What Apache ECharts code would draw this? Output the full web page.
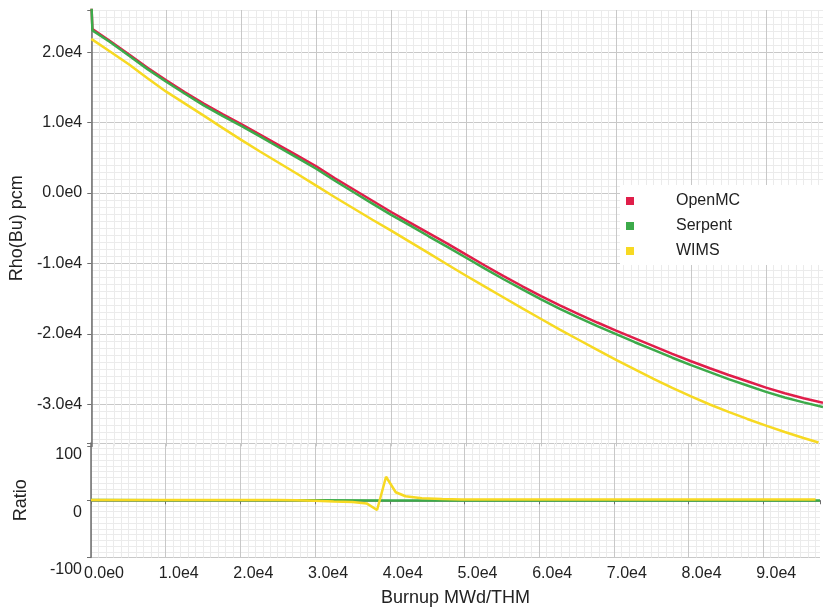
<!DOCTYPE html>
<html>
<head>
<meta charset="utf-8">
<script src="https://cdn.jsdelivr.net/npm/echarts/dist/echarts.min.js"></script>
<style>
  html, body { margin: 0; padding: 0; background: #fff; }
  #chart { width: 823px; height: 610px; }
</style>
</head>
<body>
<div id="chart"></div>
<script>
// burnup steps (MWd/THM) for the OpenMC / Serpent runs
const burnup = [0, 150, 2500, 5000, 7500, 10000, 12500, 15000, 17500, 20000, 22500, 25000,
  27500, 30000, 32500, 35000, 37500, 40000, 42500, 45000, 47500, 50000, 52500, 55000,
  57500, 60000, 62500, 65000, 67500, 70000, 72500, 75000, 77500, 80000, 82500, 85000,
  87500, 90000, 92500, 95000, 97600];
const openmc = [27500, 23300, 21600, 19700, 17800, 16000, 14300, 12700, 11200, 9800, 8300, 6800,
  5300, 3800, 2100, 500, -1100, -2700, -4200, -5700, -7200, -8750, -10300, -11800,
  -13250, -14650, -15950, -17200, -18400, -19550, -20650, -21750, -22850, -23900, -24900, -25850,
  -26750, -27650, -28450, -29150, -29800];
const serpent = [27500, 23100, 21450, 19550, 17600, 15800, 14100, 12450, 10950, 9550, 8050, 6500,
  5000, 3450, 1750, 100, -1500, -3100, -4600, -6150, -7650, -9200, -10750, -12250,
  -13700, -15100, -16450, -17700, -18900, -20050, -21200, -22300, -23400, -24450, -25450, -26450,
  -27350, -28250, -29050, -29750, -30400];

// WIMS steps
const wimsBurnup = [0, 2500, 5000, 7500, 10000, 12500, 15000, 17500, 20000, 22500, 25000, 27500,
  30000, 32500, 35000, 37500, 40000, 42500, 45000, 47500, 50000, 52500, 55000, 57500,
  60000, 62500, 65000, 67500, 70000, 72500, 75000, 77500, 80000, 82500, 85000, 87500,
  90000, 92500, 95000, 97000];
const wims = [21900, 20100, 18300, 16300, 14400, 12700, 11000, 9250, 7550, 5900, 4300, 2700,
  1050, -600, -2200, -3800, -5350, -6950, -8550, -10150, -11750, -13300, -14850, -16400,
  -17900, -19400, -20850, -22300, -23700, -25050, -26400, -27700, -28900, -30050, -31100, -32100,
  -33050, -33950, -34800, -35450];

// ratio panel
const serpentRatioBurnup = [0, 10000, 20000, 30000, 40000, 50000, 60000, 70000, 80000, 90000, 97600];
const serpentRatio = [0.3, 0.2, 0.1, -0.2, -0.5, -0.6, -0.5, -0.5, -0.6, -0.5, -0.5];
const wimsRatioBurnup = [0, 5000, 10000, 15000, 20000, 25000, 27500, 30000, 32500, 35000, 36900,
  38300, 39500, 40800, 42100, 44300, 47000, 49600, 52000, 60000, 70000, 80000, 90000, 97000];
const wimsRatio = [0.6, 0.6, 0.6, 0.6, 0.6, 0.5, 0.2, -0.8, -2, -3, -5.5,
  -17, 41, 14, 7, 3.5, 2, 1.5, 1.5, 1.5, 1.5, 1.5, 1.5, 1.5];

const legendNames = ['OpenMC', 'Serpent', 'WIMS'];
const colors = { OpenMC: '#e01e4a', Serpent: '#3caa4a', WIMS: '#f7d922' };

const FONT = '"Liberation Sans", Arial, Helvetica, sans-serif';
const MAJOR = '#c8c8c8', MINOR = '#ebebeb', AXIS = '#6e6e6e', TXT = '#222';
const X_MAX = 97600, RHO_MIN = -36000, RHO_MAX = 26000, R_MIN = -100, R_MAX = 100;

function pairs(xs, ys) { return xs.map((x, i) => [x, ys[i]]); }
function sci(v) { return v.toExponential(1).replace('+', ''); }

// same tick list echarts builds for a fixed interval (boundaries added)
function tickValues(min, max, step) {
  const out = [];
  for (let v = min; v <= max + 1e-9; v += step) out.push(Math.round(v));
  if (out[out.length - 1] < max) out.push(max);
  return out;
}
function lineColors(min, max, step, major, hideMin) {
  return tickValues(min, max, step).map((v, i) => {
    if (i === 0 && hideMin) return 'rgba(0,0,0,0)';
    if (v % step !== 0) return 'rgba(0,0,0,0)';
    return v % major === 0 ? MAJOR : MINOR;
  });
}

const hidden = { axisLine: { show: false }, axisTick: { show: false }, axisLabel: { show: false } };
const labelStyle = { fontFamily: FONT, fontSize: 16, color: TXT };
const nameStyle = { fontFamily: FONT, fontSize: 18, color: TXT };

let chart = echarts.init(document.getElementById('chart'));

const option = {
  animation: false,
  backgroundColor: '#fff',
  grid: [
    { left: 91, right: 0, top: 10, height: 436.4 },
    { left: 91, right: 0, top: 443, height: 114.5 }
  ],
  legend: {
    data: legendNames,
    orient: 'vertical',
    left: 620, top: 185,
    icon: 'rect',
    itemWidth: 8, itemHeight: 8, itemGap: 9,
    backgroundColor: '#fff',
    padding: [8, 91, 6, 6],
    textStyle: Object.assign({ padding: [0, 0, 0, 37] }, labelStyle)
  },
  xAxis: [
    Object.assign({
      gridIndex: 0, type: 'value', min: 0, max: X_MAX, interval: 1000,
      splitLine: { show: true, lineStyle: { width: 1, color: lineColors(0, X_MAX, 1000, 10000, false) } }
    }, hidden),
    Object.assign({
      gridIndex: 1, type: 'value', min: 0, max: X_MAX, interval: 1000,
      splitLine: { show: true, lineStyle: { width: 1, color: lineColors(0, X_MAX, 1000, 10000, false) } }
    }, hidden),
    {
      gridIndex: 1, type: 'value', position: 'bottom', min: 0, max: X_MAX, interval: 10000,
      axisLine: { show: true, lineStyle: { color: AXIS, width: 1.5 } },
      axisTick: { show: true, length: 4, lineStyle: { color: AXIS } },
      axisLabel: Object.assign({
        margin: 8, padding: [0, 0, 0, 26],
        formatter: v => (v % 10000 === 0 ? sci(v) : '')
      }, labelStyle),
      splitLine: { show: false },
      name: 'Burnup MWd/THM', nameLocation: 'middle', nameGap: 32, nameTextStyle: nameStyle
    }
  ],
  yAxis: [
    Object.assign({
      gridIndex: 0, type: 'value', position: 'left', min: RHO_MIN, max: RHO_MAX, interval: 1000,
      splitLine: { show: true, lineStyle: { width: 1, color: lineColors(RHO_MIN, RHO_MAX, 1000, 10000, true) } }
    }, hidden),
    {
      gridIndex: 0, type: 'value', position: 'left', min: RHO_MIN, max: RHO_MAX, splitNumber: 6,
      axisLine: { show: true, lineStyle: { color: AXIS, width: 1.5 } },
      axisTick: { show: true, length: 4, lineStyle: { color: AXIS } },
      axisLabel: Object.assign({
        margin: 9, formatter: v => (v % 10000 === 0 ? sci(v) : '')
      }, labelStyle),
      splitLine: { show: false },
      name: 'Rho(Bu) pcm', nameLocation: 'middle', nameGap: 61, nameTextStyle: nameStyle
    },
    Object.assign({
      gridIndex: 1, type: 'value', position: 'left', min: R_MIN, max: R_MAX, interval: 10,
      splitLine: { show: true, lineStyle: { width: 1, color: lineColors(R_MIN, R_MAX, 10, 100, false) } }
    }, hidden),
    {
      gridIndex: 1, type: 'value', position: 'left', min: R_MIN, max: R_MAX, interval: 100,
      axisLine: { show: true, lineStyle: { color: AXIS, width: 1.5 } },
      axisTick: { show: true, length: 4, lineStyle: { color: AXIS } },
      axisLabel: Object.assign({
        margin: 9, verticalAlign: 'top', padding: [4, 0, 0, 0], formatter: v => String(v)
      }, labelStyle),
      splitLine: { show: false },
      name: 'Ratio', nameLocation: 'middle', nameGap: 61, nameTextStyle: nameStyle
    }
  ],
  series: [
    { name: 'OpenMC', xAxisIndex: 0, yAxisIndex: 0, data: pairs(burnup, openmc) },
    { name: 'Serpent', xAxisIndex: 0, yAxisIndex: 0, data: pairs(burnup, serpent) },
    { name: 'WIMS', xAxisIndex: 0, yAxisIndex: 0, data: pairs(wimsBurnup, wims) },
    { name: 'Serpent', xAxisIndex: 1, yAxisIndex: 2, data: pairs(serpentRatioBurnup, serpentRatio) },
    { name: 'WIMS', xAxisIndex: 1, yAxisIndex: 2, data: pairs(wimsRatioBurnup, wimsRatio) }
  ].map(s => Object.assign({
    type: 'line',
    symbol: 'none',
    clip: true,
    lineStyle: { width: 2.5, color: colors[s.name] },
    itemStyle: { color: colors[s.name] }
  }, s))
};

chart.setOption(option);
</script>
</body>
</html>
